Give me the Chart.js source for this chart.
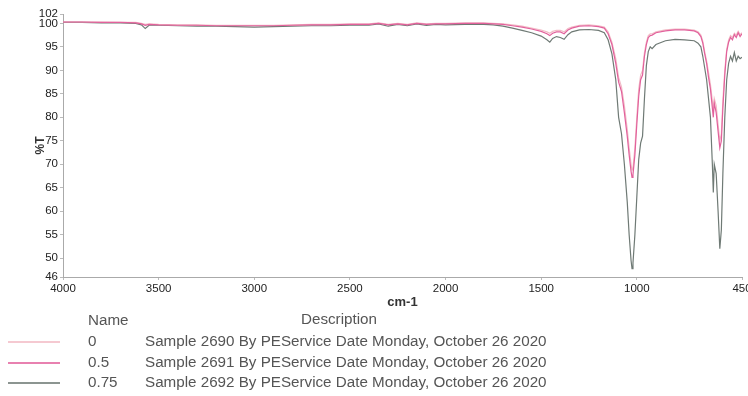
<!DOCTYPE html>
<html>
<head>
<meta charset="utf-8">
<script src="https://cdn.jsdelivr.net/npm/chart.js@4.4.0/dist/chart.umd.min.js"></script>
<style>
  body { margin: 0; background: #fff; font-family: "Liberation Sans", Arial, sans-serif; }
  #wrap { position: relative; width: 748px; height: 396px; }
  #legend { position: absolute; left: 0; top: 0; width: 748px; height: 396px; pointer-events: none; color: #555; font-size: 15.2px; }
  #legend div { position: absolute; white-space: nowrap; }
  #legend div.sw { height: 2px; opacity: 0.8; }
</style>
</head>
<body>
<div id="wrap">
  <canvas id="spectrum"></canvas>
  <div id="legend"></div>
</div>
<script>
// wavenumbers, cm-1 (shared by all three spectra)
var wavenumbers = [4000, 3900, 3800, 3700, 3620, 3590, 3570, 3550, 3500,
  3400, 3300, 3200, 3100, 3000, 2900, 2800, 2700, 2600, 2500,
  2400, 2350, 2300, 2250, 2200, 2150, 2100, 2050, 2000,
  1900, 1800, 1750, 1700, 1650, 1600, 1550, 1500,
  1470, 1455, 1440, 1420, 1400, 1380, 1360, 1340,
  1300, 1250, 1200, 1170, 1150, 1130, 1110, 1095, 1080, 1065,
  1050, 1040, 1030, 1025, 1020, 1010, 1000, 990, 980, 970,
  960, 950, 940, 930, 920, 900, 850, 800, 750, 700,
  680, 665, 655, 645, 635, 625, 615, 605, 600, 595,
  585, 575, 566, 558, 550, 540, 530, 520, 510, 500,
  490, 480, 470, 460, 450];

// %T, sample "0"
var trans0 = [100.3, 100.3, 100.3, 100.2, 100.2, 100.0, 99.8, 99.9, 99.8,
  99.7, 99.7, 99.6, 99.6, 99.6, 99.6, 99.7, 99.8, 99.8, 99.9,
  99.9, 100.1, 99.8, 100.0, 99.8, 100.1, 99.9, 100.0, 100.0,
  100.1, 100.1, 100.0, 99.9, 99.7, 99.4, 99.0, 98.6,
  98.2, 97.9, 98.3, 98.5, 98.5, 98.2, 98.9, 99.2,
  99.6, 99.7, 99.5, 99.2, 98.2, 96.0, 92.5, 88.5, 86.5, 82.5,
  77.5, 73.5, 70.0, 68.8, 69.2, 73.5, 80.0, 86.0, 89.0, 90.0,
  93.8, 96.0, 97.4, 97.8, 97.8, 98.2, 98.6, 98.8, 98.8, 98.6,
  98.2, 97.5, 96.2, 94.0, 92.0, 89.5, 87.0, 83.5, 81.5, 84.0,
  82.5, 78.5, 75.0, 76.5, 83.5, 90.0, 94.5, 96.5, 97.4, 97.0,
  97.9, 97.5, 98.3, 97.6, 98.0];

// %T, sample "0.5"
var trans05 = [100.3, 100.3, 100.2, 100.2, 100.1, 99.9, 99.6, 99.8, 99.7,
  99.6, 99.6, 99.5, 99.5, 99.5, 99.5, 99.6, 99.7, 99.7, 99.8,
  99.8, 100.0, 99.7, 99.9, 99.7, 100.0, 99.8, 99.9, 99.9,
  100.0, 100.0, 99.9, 99.8, 99.5, 99.2, 98.8, 98.3,
  97.8, 97.4, 97.9, 98.2, 98.2, 97.8, 98.6, 99.0,
  99.4, 99.5, 99.3, 99.0, 97.8, 95.5, 91.5, 87.5, 85.5, 81.0,
  76.0, 72.0, 68.5, 67.2, 67.8, 72.0, 78.5, 84.5, 88.0, 89.0,
  93.0, 95.5, 97.0, 97.4, 97.5, 98.0, 98.4, 98.6, 98.6, 98.4,
  98.0, 97.2, 95.8, 93.5, 91.5, 88.5, 86.0, 82.0, 80.0, 83.0,
  81.0, 77.0, 73.5, 75.0, 82.0, 89.0, 94.0, 96.0, 97.0, 96.5,
  97.6, 97.0, 98.0, 97.2, 97.8];

// %T, sample "0.75"
var trans075 = [100.2, 100.2, 100.1, 100.1, 100.0, 99.7, 98.9, 99.6, 99.6,
  99.5, 99.4, 99.4, 99.3, 99.2, 99.3, 99.4, 99.5, 99.5, 99.6,
  99.6, 99.9, 99.4, 99.8, 99.5, 99.9, 99.6, 99.8, 99.7,
  99.8, 99.8, 99.7, 99.4, 99.0, 98.5, 98.0, 97.3,
  96.5, 96.0, 96.8, 97.2, 97.0, 96.6, 97.6, 98.2,
  98.6, 98.7, 98.5, 98.0, 96.5, 93.5, 88.0, 80.0, 76.5, 70.0,
  62.0, 55.0, 49.5, 47.8, 49.0, 55.0, 63.0, 71.0, 74.5, 76.0,
  84.0, 91.0, 94.0, 95.0, 94.6, 95.5, 96.3, 96.6, 96.5, 96.3,
  95.8, 95.0, 93.0, 90.5, 88.0, 84.0, 80.0, 70.0, 64.0, 70.0,
  68.0, 60.0, 52.0, 56.0, 68.0, 80.0, 88.0, 91.5, 93.0, 92.0,
  93.8, 92.0, 93.0, 92.5, 92.8];

var sampleNames = ["0", "0.5", "0.75"];
var sampleDescriptions = [
  "Sample 2690 By PEService Date Monday, October 26 2020",
  "Sample 2691 By PEService Date Monday, October 26 2020",
  "Sample 2692 By PEService Date Monday, October 26 2020"
];

var xTicks = [4000, 3500, 3000, 2500, 2000, 1500, 1000, 450];
var yTicks = [46, 50, 55, 60, 65, 70, 75, 80, 85, 90, 95, 100, 102];

var colors = ["#f2bcc6", "#e2619c", "#6f7a75"];
var series = [trans0, trans05, trans075];

function toPoints(values) {
  return values.map(function(v, i) { return {x: wavenumbers[i], y: v}; });
}

var datasets = series.map(function(values, i) {
  return {
    label: sampleNames[i],
    data: toPoints(values),
    borderColor: colors[i],
    borderWidth: 1.2,
    pointRadius: 0,
    tension: 0,
    fill: false,
    order: [2, 1, 3][i]
  };
});

var tickFont = {family: "Liberation Sans", size: 11.5};
var plainNumber = function(v) { return String(v); };

new Chart(document.getElementById('spectrum'), {
  type: 'line',
  data: {datasets: datasets},
  options: {
    responsive: true,
    maintainAspectRatio: false,
    animation: false,
    layout: {padding: {top: 14, right: 6, bottom: 86, left: 0}},
    plugins: {legend: {display: false}, tooltip: {enabled: false}},
    scales: {
      x: {
        type: 'linear',
        reverse: true,
        min: 450,
        max: 4000,
        afterBuildTicks: function(scale) {
          scale.ticks = xTicks.map(function(v) { return {value: v}; });
        },
        afterFit: function(scale) {
          scale.height = 33;
          scale.paddingLeft = 0;
          scale.paddingRight = 0;
        },
        grid: {drawOnChartArea: false, drawTicks: true, tickLength: 3, color: '#bbb'},
        border: {color: '#aaa'},
        ticks: {autoSkip: false, maxRotation: 0, padding: 2, color: '#222', font: tickFont, callback: plainNumber},
        title: {display: true, text: 'cm-1', color: '#333', padding: 0,
          font: {family: "Liberation Sans", size: 13, weight: 'bold'}}
      },
      y: {
        min: 46,
        max: 102,
        afterBuildTicks: function(scale) {
          scale.ticks = yTicks.map(function(v) { return {value: v}; });
        },
        afterFit: function(scale) {
          scale.width = 63;
          scale.paddingTop = 0;
          scale.paddingBottom = 0;
        },
        grid: {drawOnChartArea: false, drawTicks: true, tickLength: 3, color: '#bbb'},
        border: {color: '#aaa'},
        ticks: {autoSkip: false, padding: 2, color: '#222', font: tickFont, callback: plainNumber},
        title: {display: true, text: '%T', color: '#333', padding: {top: 33},
          font: {family: "Liberation Sans", size: 12, weight: 'bold'}}
      }
    }
  }
});

// legend table under the plot
var legend = document.getElementById('legend');
function addText(text, left, top) {
  var d = document.createElement('div');
  d.textContent = text;
  d.style.left = left + 'px';
  d.style.top = top + 'px';
  legend.appendChild(d);
  return d;
}
addText('Name', 88, 311);
addText('Description', 301, 310);
sampleNames.forEach(function(name, i) {
  var top = Math.round(332 + i * 20.5);
  addText(name, 88, top);
  addText(sampleDescriptions[i], 145, top);
  var sw = document.createElement('div');
  sw.className = 'sw';
  sw.style.left = '8px';
  sw.style.width = '52px';
  sw.style.top = (top + 9) + 'px';
  sw.style.backgroundColor = colors[i];
  legend.appendChild(sw);
});
</script>
</body>
</html>
